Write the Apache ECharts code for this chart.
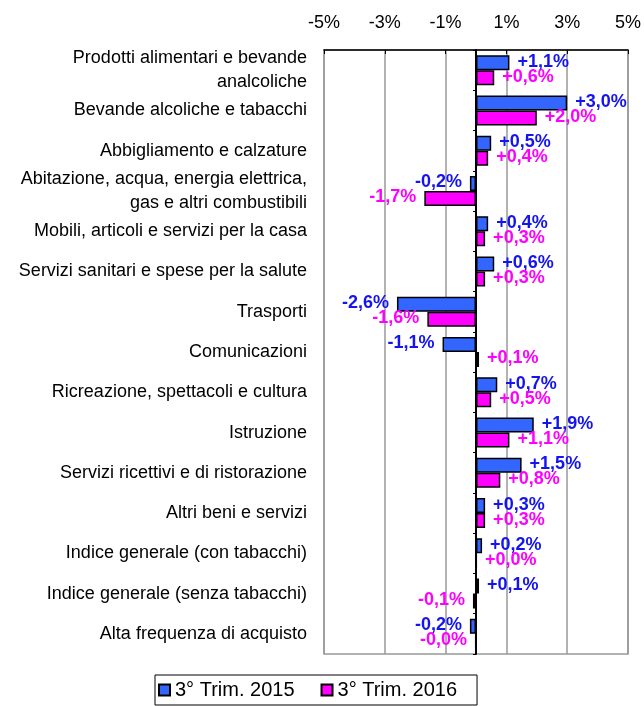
<!DOCTYPE html>
<html>
<head>
<meta charset="utf-8">
<script src="https://cdn.jsdelivr.net/npm/echarts@6/dist/echarts.min.js"></script>
<style>
  html, body { margin: 0; padding: 0; background: #fff; }
  #chart { width: 644px; height: 706px; }
</style>
</head>
<body>
<div id="chart"></div>
<script>
const categories = [
  'Prodotti alimentari e bevande\nanalcoliche',
  'Bevande alcoliche e tabacchi',
  'Abbigliamento e calzature',
  'Abitazione, acqua, energia elettrica,\ngas e altri combustibili',
  'Mobili, articoli e servizi per la casa',
  'Servizi sanitari e spese per la salute',
  'Trasporti',
  'Comunicazioni',
  'Ricreazione, spettacoli e cultura',
  'Istruzione',
  'Servizi ricettivi e di ristorazione',
  'Altri beni e servizi',
  'Indice generale (con tabacchi)',
  'Indice generale (senza tabacchi)',
  'Alta frequenza di acquisto'
];
const trim2015 = [1.1, 3.0, 0.5, -0.2, 0.4, 0.6, -2.6, -1.1, 0.7, 1.9, 1.5, 0.3, 0.2, 0.1, -0.2];
const trim2016 = [0.6, 2.0, 0.4, -1.7, 0.3, 0.3, -1.6, 0.1, 0.5, 1.1, 0.8, 0.3, 0.02, -0.1, -0.02];
const seriesNames = ['3° Trim. 2015', '3° Trim. 2016'];
const xMin = -5, xMax = 5, xStep = 2;

const chart = echarts.init(document.getElementById('chart'));

// segno sempre visibile, virgola decimale
const fmt = (p) => {
  const v = p.value;
  return (v >= 0 ? '+' : '-') + Math.abs(v).toFixed(1).replace('.', ',') + '%';
};
const toItems = (arr) => arr.map(v => ({
  value: v,
  label: { position: v < 0 ? 'left' : 'right' }
}));

const barSeries = (name, values, fill, textColor) => ({
  name: name,
  type: 'bar',
  yAxisIndex: 0,
  barWidth: 15,
  barGap: '0%',
  data: toItems(values),
  itemStyle: { color: fill, borderColor: '#000', borderWidth: 1.5 },
  label: {
    show: true,
    distance: 8,
    offset: [0, -1],
    formatter: fmt,
    color: textColor,
    fontFamily: 'Arial, Liberation Sans',
    fontWeight: 'bold',
    fontSize: 18
  }
});

chart.setOption({
  animation: false,
  grid: {
    left: 324,
    right: 14,
    top: 50,
    bottom: 52,
    show: true,
    borderColor: '#999',
    borderWidth: 1.5
  },
  legend: {
    left: 155,
    top: 675,
    icon: 'rect',
    itemWidth: 11,
    itemHeight: 11,
    itemGap: 26,
    padding: [5, 20, 5, 3],
    borderColor: '#000',
    borderWidth: 1,
    textStyle: { fontFamily: 'Arial, Liberation Sans', fontSize: 20, color: '#000' },
    data: seriesNames
  },
  xAxis: {
    type: 'value',
    position: 'top',
    min: xMin,
    max: xMax,
    interval: xStep,
    axisLine: { show: true, lineStyle: { color: '#000', width: 1.5 } },
    axisTick: { show: true, inside: true, length: 4, lineStyle: { color: '#000' } },
    axisLabel: {
      margin: 18,
      fontFamily: 'Arial, Liberation Sans',
      fontSize: 18,
      color: '#000',
      formatter: v => v + '%'
    },
    splitLine: { show: true, lineStyle: { color: '#999', width: 1.5 } }
  },
  yAxis: [
    {
      type: 'category',
      data: categories,
      inverse: true,
      position: 'left',
      axisLine: { show: false },
      axisTick: { show: false },
      axisLabel: {
        margin: 17,
        fontFamily: 'Arial, Liberation Sans',
        fontSize: 18,
        lineHeight: 24,
        color: '#000',
        align: 'right'
      }
    },
    {
      // linea dello zero con le tacche
      type: 'category',
      data: categories,
      inverse: true,
      position: 'left',
      axisLine: { show: true, onZero: true, onZeroAxisIndex: 0, lineStyle: { color: '#000', width: 2 } },
      axisTick: { show: true, length: 3, lineStyle: { color: '#000' } },
      axisLabel: { show: false },
      splitLine: { show: false }
    }
  ],
  series: [
    barSeries(seriesNames[0], trim2015, '#3366ff', '#1414f0'),
    barSeries(seriesNames[1], trim2016, '#ff00ff', '#ff00ff')
  ]
});
</script>
</body>
</html>
